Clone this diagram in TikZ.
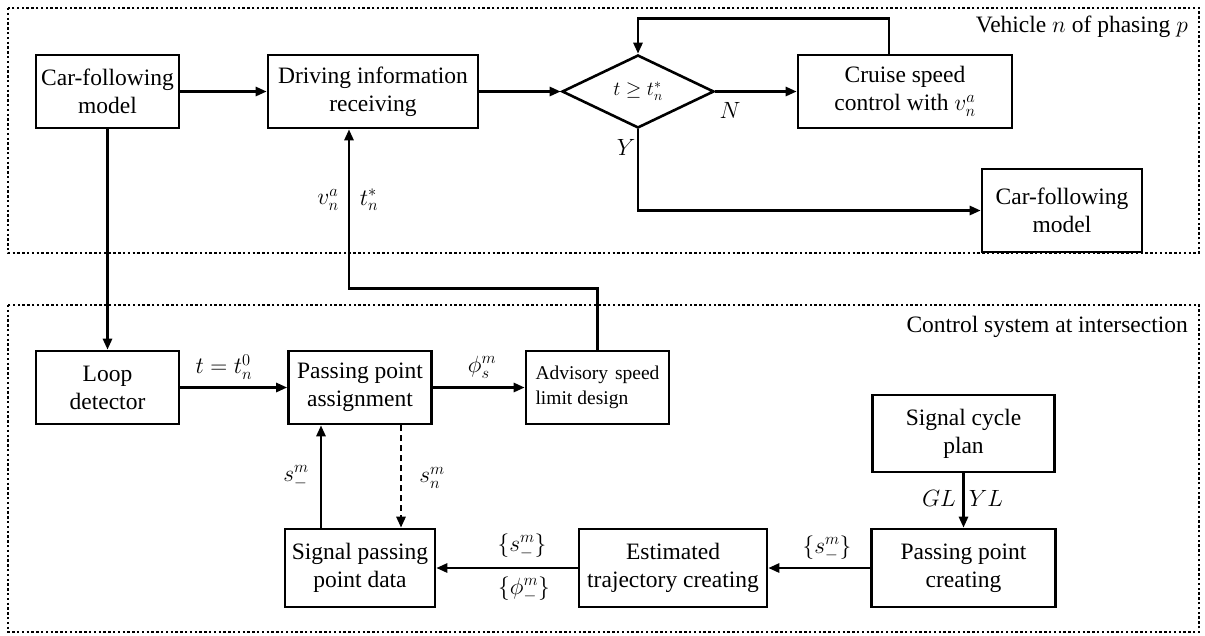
\RequirePackage{fix-cm}
\documentclass[tikz,border=0pt]{standalone}
\usepackage{fontspec}
\setmainfont{Liberation Serif}
\newfontfamily\timesrm{Liberation Serif}
\usetikzlibrary{arrows.meta,shapes.geometric,calc}
\begin{document}
\begin{tikzpicture}[x=1pt,y=-1pt,
  txt/.style={font=\timesrm\fontsize{23.5}{28}\selectfont},
  box/.style={draw, line width=2.6pt, inner sep=2pt, align=center, txt},
  arr/.style={line width=2.6pt, -{Triangle[length=11pt,width=9pt]}},
  frame/.style={line width=2.4pt, dash pattern=on 2.4pt off 2.4pt},
  lab/.style={txt, inner sep=0pt}]
\useasboundingbox (0,0) rectangle (1205,635);
% frames
\draw[frame] (8,8) rectangle (1199,253);
\draw[frame] (8,305) rectangle (1199,632);
\node[lab, anchor=east] (vlab) at (1188,27) {Vehicle $n$ of phasing $p$};
\node[lab, anchor=east] (clab) at (1188,327) {Control system at intersection};
% top row
\node[box, minimum width=143pt, minimum height=73pt] (cf1) at (107.5,91.5) {Car-following\\model};
\node[box, minimum width=210pt, minimum height=73pt] (dir) at (373,91.5) {Driving information\\receiving};
\node[draw, diamond, line width=2.6pt, minimum width=152pt, minimum height=73pt, inner sep=0pt, font=\timesrm\fontsize{20}{24}\selectfont] (dia) at (638,91.5) {$t\ge t_n^*$};
\node[box, minimum width=214pt, minimum height=73pt] (cruise) at (905,91.5) {Cruise speed\\control with $v_n^a$};
\node[box, minimum width=160pt, minimum height=83pt] (cf2) at (1062,210.5) {Car-following\\model};
% middle row
\node[box, minimum width=143pt, minimum height=73pt] (loop) at (107.5,387.5) {Loop\\detector};
\node[box, minimum width=143pt, minimum height=73pt] (ppa) at (360,387.5) {Passing point\\assignment};
\node[draw, line width=2.6pt, minimum width=143pt, minimum height=73pt, inner sep=2pt, align=left, font=\timesrm\fontsize{19.5}{25}\selectfont] (asl) at (597.5,387.5) {Advisory\hspace{7pt}speed\\limit\hspace{5pt}design\hspace{34pt}};
% bottom rows
\node[box, minimum width=182pt, minimum height=77pt] (scp) at (963.5,433.5) {Signal cycle\\plan};
\node[box, minimum width=150pt, minimum height=78pt] (sppd) at (360,568) {Signal passing\\point data};
\node[box, minimum width=188pt, minimum height=78pt] (etc) at (673,568) {Estimated\\trajectory creating};
\node[box, minimum width=184pt, minimum height=78pt] (ppc) at (963.5,568) {Passing point\\creating};
% connectors, top
\draw[arr] (cf1.east) -- (dir.west);
\draw[arr] (dir.east) -- (dia.west);
\draw[arr] (dia.east) -- (cruise.west);
\node[lab] (nlab) at (730,110) {$N$};
\draw[arr] ([xshift=-16pt]cruise.north) |- ($(dia.north)+(0,-35)$) -- (dia.north);
\draw[arr] (dia.south) |- (cf2.west);
\node[lab] (ylab) at (626,147) {$Y$};
\draw[arr] (cf1.south) -- (loop.north);
% connectors, control system
\draw[arr] (loop.east) -- (ppa.west);
\node[lab] (t0) at (224,367) {$t=t_n^0$};
\draw[arr] (ppa.east) -- (asl.west);
\node[lab] (phis) at (482,367) {$\phi_s^m$};
\draw[arr] (asl.north) |- ($(dir.south)+(-24,159)$) -- ([xshift=-24pt]dir.south);
\node[lab] (va) at (328,200) {$v_n^a$};
\node[lab] (ts) at (369,200) {$t_n^*$};
\draw[arr] ([xshift=-39pt]sppd.north) -- ([xshift=-39pt]ppa.south);
\node[lab] (sm) at (296,477) {$s_{-}^m$};
\draw[arr, dash pattern=on 6pt off 4pt] ([xshift=41pt]ppa.south) -- ([xshift=41pt]sppd.north);
\node[lab] (sn) at (432,478) {$s_n^m$};
\draw[arr] (etc.west) -- (sppd.east);
\node[lab] (sset1) at (522,546) {$\{s_{-}^m\}$};
\node[lab] (phiset) at (524,589) {$\{\phi_{-}^m\}$};
\draw[arr] (ppc.west) -- (etc.east);
\node[lab] (sset2) at (827,548) {$\{s_{-}^m\}$};
\draw[arr] (scp.south) -- (ppc.north);
\node[lab] (gl) at (939,498) {$GL$};
\node[lab] (yl) at (986,498) {$YL$};
\end{tikzpicture}
\end{document}
